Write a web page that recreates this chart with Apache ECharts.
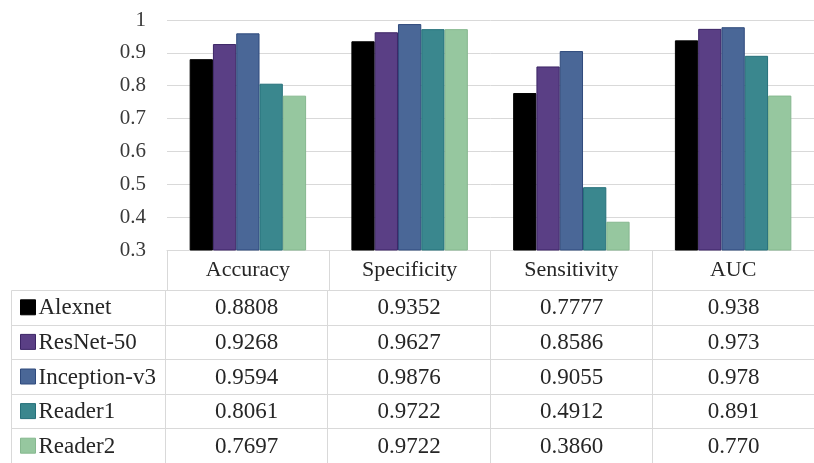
<!DOCTYPE html>
<html><head><meta charset="utf-8">
<script src="https://cdn.jsdelivr.net/npm/echarts@6/dist/echarts.min.js"></script>
<style>html,body{margin:0;padding:0;background:#fff}#c{width:814px;height:463px}</style>
</head><body><div id="c"></div>
<script>
// ---- data ----
const metrics = ['Accuracy', 'Specificity', 'Sensitivity', 'AUC'];
const modelNames = ['Alexnet', 'ResNet-50', 'Inception-v3', 'Reader1', 'Reader2'];
const alexnet = [0.8808, 0.9352, 0.7777, 0.938];
const resnet50 = [0.9268, 0.9627, 0.8586, 0.973];
const inceptionV3 = [0.9594, 0.9876, 0.9055, 0.978];
const reader1 = [0.8061, 0.9722, 0.4912, 0.891];
const reader2 = [0.7697, 0.9722, 0.3860, 0.770];
const decimals = [4, 4, 4, 3];
const yMin = 0.3, yMax = 1, yStep = 0.1;

// ---- styles ----
const values = [alexnet, resnet50, inceptionV3, reader1, reader2];
const colors = ['#000000', '#5a3f85', '#4a6797', '#3a878e', '#96c79f'];
const borders = ['#000000', '#3c2566', '#2f4a7c', '#25707a', '#86b88f'];
const FONT = 'Liberation Serif';
const GRIDC = '#d9d9d9';
const TXT = '#262626';
const tableMin = -0.951;

const tableData = [];
modelNames.forEach((n, r) => { for (let c = -1; c < metrics.length; c++) tableData.push([c, r]); });

const chart = echarts.init(document.getElementById('c'));
chart.setOption({
  animation: false,
  backgroundColor: '#fff',
  grid: [
    { left: 167, right: -9, top: 20, bottom: 213 },
    { left: 11, right: -9, top: 290, height: 176 }
  ],
  xAxis: [
    { type: 'category', gridIndex: 0, data: metrics,
      axisLine: { show: true, lineStyle: { color: GRIDC, width: 1 } },
      axisTick: { show: true, interval: 0, length: 40, lineStyle: { color: GRIDC } },
      axisLabel: { interval: 0, margin: 9, fontFamily: FONT, fontSize: 22, color: TXT },
      splitLine: { show: false } },
    { type: 'value', gridIndex: 1, min: tableMin, max: 4, show: false }
  ],
  yAxis: [
    { type: 'value', gridIndex: 0, min: yMin, max: yMax, interval: yStep,
      axisLine: { show: false }, axisTick: { show: false },
      axisLabel: { margin: 21, fontFamily: FONT, fontSize: 21, color: '#3a3a3a',
        formatter: v => String(Math.round(v * 10) / 10) },
      splitLine: { lineStyle: { color: GRIDC, width: 1 } } },
    { type: 'category', gridIndex: 1, data: modelNames, inverse: true, show: false }
  ],
  series: modelNames.map((n, i) => ({
    name: n, type: 'bar', xAxisIndex: 0, yAxisIndex: 0,
    data: values[i],
    barGap: '0%', barCategoryGap: '28%',
    itemStyle: { color: colors[i], borderColor: borders[i], borderWidth: 1 }
  })).concat([{
    type: 'custom', xAxisIndex: 1, yAxisIndex: 1, clip: false, silent: true,
    data: tableData,
    renderItem: function (params, api) {
      const c = api.value(0), r = api.value(1);
      const xa = c < 0 ? tableMin : c;
      const p0 = api.coord([xa, r]);
      const p1 = api.coord([c + 1, r]);
      const h = api.size([0, 1])[1];
      const x0 = Math.round(p0[0]) + 0.5, x1 = Math.round(p1[0]) + 0.5;
      const y0 = Math.round(p0[1] - h / 2) + 0.5, y1 = Math.round(p0[1] + h / 2) + 0.5;
      const cy = p0[1];
      const children = [{
        type: 'rect', shape: { x: x0, y: y0, width: x1 - x0, height: y1 - y0 },
        style: { fill: 'none', stroke: GRIDC, lineWidth: 1 }
      }];
      if (c < 0) {
        children.push({ type: 'rect', shape: { x: x0 + 9, y: cy - 7.5, width: 15, height: 15 },
          style: { fill: colors[r], stroke: borders[r], lineWidth: 1 } });
        children.push({ type: 'text', style: { x: x0 + 27, y: cy + 1, text: modelNames[r],
          fontFamily: FONT, fontSize: 23, fill: TXT, align: 'left', verticalAlign: 'middle' } });
      } else {
        children.push({ type: 'text', style: { x: (x0 + x1) / 2, y: cy + 1,
          text: values[r][c].toFixed(decimals[c]),
          fontFamily: FONT, fontSize: 23, fill: TXT, align: 'center', verticalAlign: 'middle' } });
      }
      return { type: 'group', children: children };
    }
  }])
});
</script></body></html>
